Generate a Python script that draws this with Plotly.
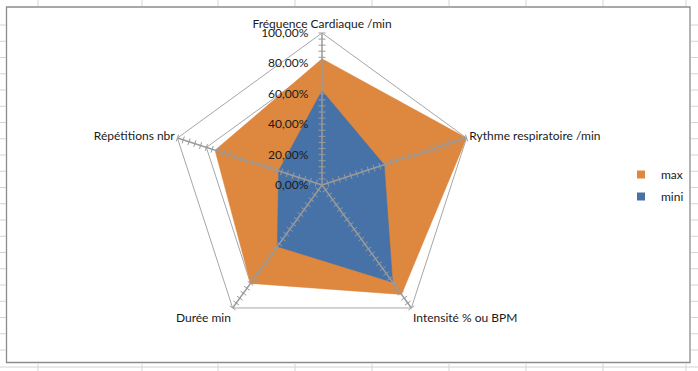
import plotly.graph_objects as go

categories = ["Fréquence Cardiaque /min", "Rythme respiratoire /min",
              "Intensité % ou BPM", "Durée min", "Répétitions nbr"]
max_values = [83, 100, 89, 80, 74]
mini_values = [62, 43, 79, 50, 30]
series_names = ["max", "mini"]
tick_values = [0, 20, 40, 60, 80, 100]
tick_labels = ["0,00%", "20,00%", "40,00%", "60,00%", "80,00%", "100,00%"]
minor_step = 4

ORANGE = "#DD873F"
BLUE = "#4672A8"
GRID = "#A6A6A6"
SPOKE = "#9A9A9A"
FONT = "Lato"
W, H = 698, 371

fig = go.Figure()

def closed(vals):
    return list(vals) + [vals[0]]

cats_closed = closed(categories)

fig.add_trace(go.Scatterpolar(r=closed(max_values), theta=cats_closed, fill="toself",
                              fillcolor=ORANGE, mode="lines", line=dict(color=ORANGE, width=0.5),
                              name=series_names[0], showlegend=False, hoverinfo="skip"))
fig.add_trace(go.Scatterpolar(r=closed(mini_values), theta=cats_closed, fill="toself",
                              fillcolor=BLUE, mode="lines", line=dict(color=BLUE, width=0.5),
                              name=series_names[1], showlegend=False, hoverinfo="skip"))

# spokes with tick marks, drawn above the filled series
top = tick_values[-1]
minor_r = list(range(minor_step, top + 1, minor_step))
for i, c in enumerate(categories):
    fig.add_trace(go.Scatterpolar(r=[0, top], theta=[c, c], mode="lines",
                                  line=dict(color=SPOKE, width=1.5),
                                  showlegend=False, hoverinfo="skip"))
    fig.add_trace(go.Scatterpolar(r=minor_r, theta=[c] * len(minor_r), mode="markers",
                                  marker=dict(symbol="line-ew", size=5, angle=72 * i,
                                              line=dict(color=SPOKE, width=1)),
                                  showlegend=False, hoverinfo="skip"))

# legend entries
for name, col in zip(series_names, [ORANGE, BLUE]):
    fig.add_trace(go.Scatterpolar(r=[None], theta=[categories[0]], mode="markers",
                                  marker=dict(symbol="square", size=8, color=col),
                                  name=name, legendgroup=name, showlegend=True))

cx, cy, rad = 322, 185, 152
shapes = [dict(type="rect", xref="paper", yref="paper",
               x0=6.5 / W, x1=690 / W, y0=1 - 362.5 / H, y1=1 - 7 / H,
               line=dict(color="#8C8C8C", width=1.3), layer="below")]
# spreadsheet cell lines outside the chart
for x in [38, 142, 218, 295, 372, 449, 526, 603, 686]:
    shapes.append(dict(type="line", xref="paper", yref="paper", x0=x / W, x1=x / W,
                       y0=1, y1=1 - 6 / H, line=dict(color="#D4D4D4", width=1)))
    shapes.append(dict(type="line", xref="paper", yref="paper", x0=x / W, x1=x / W,
                       y0=0, y1=1 - 364 / H, line=dict(color="#D4D4D4", width=1)))
y = 25.0
while y < 362:
    for xa, xb in [(0, 6), (691, W)]:
        shapes.append(dict(type="line", xref="paper", yref="paper", x0=xa / W, x1=xb / W,
                           y0=1 - y / H, y1=1 - y / H, line=dict(color="#D4D4D4", width=1)))
    y += 16.25
shapes.append(dict(type="line", xref="paper", yref="paper", x0=0, x1=1,
                   y0=1 - 367 / H, y1=1 - 367 / H, line=dict(color="#D4D4D4", width=1)))

fig.update_layout(
    width=W, height=H,
    margin=dict(l=0, r=0, t=0, b=0),
    paper_bgcolor="white",
    font=dict(family=FONT, size=12, color="#1A1A1A"),
    showlegend=True,
    legend=dict(x=621 / W, y=1 - 160 / H, xanchor="left", yanchor="top",
                bgcolor="rgba(0,0,0,0)", font=dict(size=12), tracegroupgap=3,
                itemwidth=30),
    shapes=shapes,
    polar=dict(
        domain=dict(x=[(cx - rad) / W, (cx + rad) / W],
                    y=[(H - cy - rad) / H, (H - cy + rad) / H]),
        gridshape="linear",
        bgcolor="white",
        radialaxis=dict(range=[0, top], tickvals=tick_values, ticktext=tick_labels,
                        angle=90, side="counterclockwise", showline=False,
                        ticks="outside", ticklen=9, tickcolor="rgba(0,0,0,0)",
                        tickangle=90,
                        showgrid=True, gridcolor=GRID, gridwidth=1,
                        tickfont=dict(size=12, color="#1A1A1A"), layer="above traces"),
        angularaxis=dict(categoryarray=categories, direction="clockwise", rotation=90,
                         showline=True, linecolor=GRID, linewidth=1,
                         showgrid=False, ticks="",
                         tickfont=dict(size=12, color="#1A1A1A")),
    ),
)

fig.write_html("out.html", config={"displayModeBar": False},
               post_script="document.body.style.margin='0px';")
